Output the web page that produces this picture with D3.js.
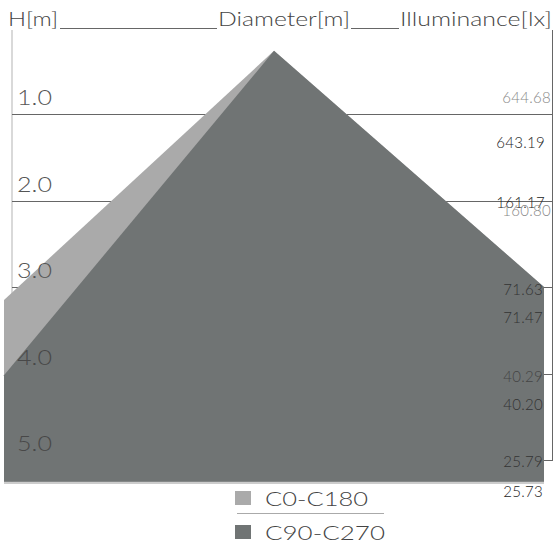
<html>
<head>
<script src="https://d3js.org/d3.v7.min.js"></script>
<style>
  body { margin: 0; background: #fff; }
  text { font-family: "Lato", "Noto Sans", sans-serif; font-weight: 300; }
</style>
<script type="text/javascript">

// heights (m) and their labels
var heights = [1, 2, 3, 4, 5];
var heightLabels = ["1.0", "2.0", "3.0", "4.0", "5.0"];

// illuminance per height, two planes
var luxC0 = [644.68, 161.17, 71.63, 40.29, 25.79];
var luxC90 = [643.19, 160.80, 71.47, 40.20, 25.73];

// beam outline as [diameter (m), height (m)]
var seriesNames = ["C0-C180", "C90-C270"];
var outlineC0 = [[0, 0.27], [-4, 3.15], [-4, 5.25], [4, 5.25], [4, 3.0]];
var outlineC90 = [[0, 0.27], [-4, 4.02], [-4, 5.25], [4, 5.25], [4, 3.0]];

window.onload = function()
{
  var svg = d3.select("body").append("svg").attr("width", 555).attr("height", 544);

  var x = d3.scaleLinear().domain([-4, 4]).range([4, 544]),
      y = d3.scaleLinear().domain([0, 5]).range([27.5, 460]);

  var colors = ["#aaaaaa", "#707474"];

  // stretch a text to a given width (reference font is a wide geometric face)
  function fit(sel, w) {
    return sel.attr("textLength", w).attr("lengthAdjust", "spacingAndGlyphs");
  }

  // header
  var head = svg.append("g").attr("fill", "#444").style("font-size", "20px");
  fit(head.append("text").attr("x", 8).attr("y", 26).text("H[m]"), 50);
  fit(head.append("text").attr("x", 218).attr("y", 26).text("Diameter[m]"), 132);
  fit(head.append("text").attr("x", 400).attr("y", 26).text("Illuminance[lx]"), 152);
  head.append("line").attr("x1", 60).attr("x2", 217).attr("y1", 28.5).attr("y2", 28.5).attr("stroke", "#666");
  head.append("line").attr("x1", 351).attr("x2", 399).attr("y1", 28.5).attr("y2", 28.5).attr("stroke", "#666");

  // frame
  svg.append("line").attr("x1", 12).attr("x2", 12).attr("y1", 30).attr("y2", 483)
    .attr("stroke", "#ccc").attr("stroke-width", 1.5);
  svg.append("line").attr("x1", 552.5).attr("x2", 552.5).attr("y1", 30).attr("y2", y(5))
    .attr("stroke", "#666");

  // grid lines
  svg.selectAll(".grid").data(heights).enter().append("line")
    .attr("class", "grid")
    .attr("x1", 12).attr("x2", 553)
    .attr("y1", function(d) { return Math.round(y(d)) + 0.5; })
    .attr("y2", function(d) { return Math.round(y(d)) + 0.5; })
    .attr("stroke", "#666");

  // beam shapes
  var area = d3.line()
    .x(function(d) { return x(d[0]); })
    .y(function(d) { return y(d[1]); });

  [outlineC0, outlineC90].forEach(function(o, i) {
    svg.append("path").attr("d", area(o) + "Z").attr("fill", colors[i]);
  });

  svg.append("line").attr("x1", 4).attr("x2", 544).attr("y1", 483).attr("y2", 483)
    .attr("stroke", "#ccc").attr("stroke-width", 2);

  // height labels
  svg.selectAll(".hlab").data(heights).enter().append("text")
    .attr("class", "hlab")
    .attr("x", 17)
    .attr("y", function(d) { return y(d) - 9; })
    .attr("fill", function(d) { return d > 3 ? "#484848" : "#555"; })
    .attr("textLength", 35).attr("lengthAdjust", "spacingAndGlyphs")
    .style("font-size", "21px")
    .text(function(d, i) { return heightLabels[i]; });

  // illuminance labels
  var dyA = [-11, 7, 8, 8, 7],
      dyB = [34, 15, 36, 36, 37],
      xA = [551, 545, 543, 543, 543],
      xB = [545, 551, 543, 543, 543],
      colA = ["#888", "#222", "#333", "#444", "#333"],
      colB = ["#222", "#888", "#333", "#333", "#222"];

  svg.selectAll(".luxA").data(luxC0).enter().append("text")
    .attr("class", "luxA")
    .attr("text-anchor", "end")
    .attr("x", function(d, i) { return xA[i]; })
    .attr("y", function(d, i) { return y(heights[i]) + dyA[i]; })
    .attr("fill", function(d, i) { return colA[i]; })
    .style("font-size", "15px").style("letter-spacing", "0.3px")
    .text(function(d) { return d.toFixed(2); });

  svg.selectAll(".luxB").data(luxC90).enter().append("text")
    .attr("class", "luxB")
    .attr("text-anchor", "end")
    .attr("x", function(d, i) { return xB[i]; })
    .attr("y", function(d, i) { return y(heights[i]) + dyB[i]; })
    .attr("fill", function(d, i) { return colB[i]; })
    .style("font-size", "15px").style("letter-spacing", "0.3px")
    .text(function(d) { return d.toFixed(2); });

  // legend
  var legendW = [103, 120];
  var legend = svg.append("g");
  seriesNames.forEach(function(name, i) {
    legend.append("rect").attr("x", 235).attr("y", 491 + i * 34).attr("width", 16).attr("height", 14)
      .attr("fill", colors[i]);
    fit(legend.append("text").attr("x", 265).attr("y", 506 + i * 34)
      .attr("fill", "#444").style("font-size", "20px").text(name), legendW[i]);
  });
  legend.append("line").attr("x1", 237).attr("x2", 384).attr("y1", 513.5).attr("y2", 513.5)
    .attr("stroke", "#aaa");
}

</script>
</head>
<body>
</body>
</html>
